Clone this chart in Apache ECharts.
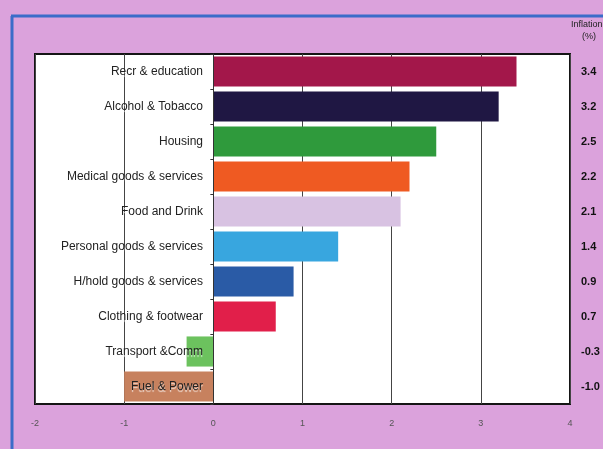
<!DOCTYPE html>
<html>
<head>
<meta charset="utf-8">
<script src="https://cdn.jsdelivr.net/npm/echarts@6/dist/echarts.min.js"></script>
<style>
  html, body { margin: 0; padding: 0; background: #dba2dc; }
  #chart { width: 603px; height: 449px; }
</style>
</head>
<body>
<div id="chart"></div>
<script>
// Inflation by spending category, top to bottom
const categories = [
  'Recr & education', 'Alcohol & Tobacco', 'Housing', 'Medical goods & services',
  'Food and Drink', 'Personal goods & services', 'H/hold goods & services',
  'Clothing & footwear', 'Transport &Comm', 'Fuel & Power'
];
const inflation = [3.4, 3.2, 2.5, 2.2, 2.1, 1.4, 0.9, 0.7, -0.3, -1.0];
const barColors = [
  '#a3174a', '#1f1743', '#2f9a3c', '#ef5a22', '#d8c2e2',
  '#38a6df', '#2a5ba6', '#e11f4a', '#6cc25e', '#c7815e'
];
const xTicks = { min: -2, max: 4, interval: 1 };

const valueLabels = inflation.map(v => v.toFixed(1));

const chart = echarts.init(document.getElementById('chart'));
chart.setOption({
  backgroundColor: '#dba2dc',
  animation: false,
  grid: {
    left: 35, right: 33, top: 54, bottom: 45,
    containLabel: false, outerBoundsMode: 'none',
    show: true, backgroundColor: '#ffffff', borderColor: '#151515', borderWidth: 2
  },
  graphic: [
    { type: 'line', shape: { x1: 11, y1: 16, x2: 603, y2: 16 },
      style: { stroke: '#3b6cc9', lineWidth: 3 } },
    { type: 'line', shape: { x1: 12, y1: 16, x2: 12, y2: 449 },
      style: { stroke: '#3b6cc9', lineWidth: 3 } },
    { type: 'text', left: 571, top: 20,
      style: { text: 'Inflation', font: '9px "Liberation Sans", Arial, sans-serif', fill: '#222' } },
    { type: 'text', left: 582, top: 32,
      style: { text: '(%)', font: '9px "Liberation Sans", Arial, sans-serif', fill: '#222' } }
  ],
  xAxis: {
    type: 'value',
    min: xTicks.min, max: xTicks.max, interval: xTicks.interval,
    axisLine: { show: false },
    axisTick: { show: false },
    axisLabel: { color: '#555', fontSize: 9, margin: 15, fontFamily: '"Liberation Sans", Arial' },
    splitLine: { show: true, lineStyle: { color: '#444', width: 1 } }
  },
  yAxis: [
    {
      type: 'category',
      data: categories,
      inverse: true,
      axisLine: { show: true, onZero: true, lineStyle: { color: '#333', width: 1 } },
      axisTick: { show: true, length: 3, lineStyle: { color: '#333' } },
      // category names sit just left of the zero line, inside the plot
      axisLabel: {
        color: '#222', fontSize: 12, margin: -168,
        fontFamily: '"Liberation Sans", Arial, sans-serif',
        textShadowColor: 'rgba(255,255,255,0.7)', textShadowOffsetY: 2, textShadowBlur: 1
      },
      z: 5
    },
    {
      type: 'category',
      data: valueLabels,
      inverse: true,
      position: 'right',
      axisLine: { show: false },
      axisTick: { show: false },
      axisLabel: {
        color: '#111', fontSize: 11, fontWeight: 'bold', margin: 11, align: 'left',
        fontFamily: '"Liberation Sans", Arial, sans-serif'
      }
    }
  ],
  series: [{
    type: 'bar',
    yAxisIndex: 0,
    data: inflation.map((v, i) => ({ value: v, itemStyle: { color: barColors[i] } })),
    barCategoryGap: '14%',
    z: 2
  }]
});
</script>
</body>
</html>
